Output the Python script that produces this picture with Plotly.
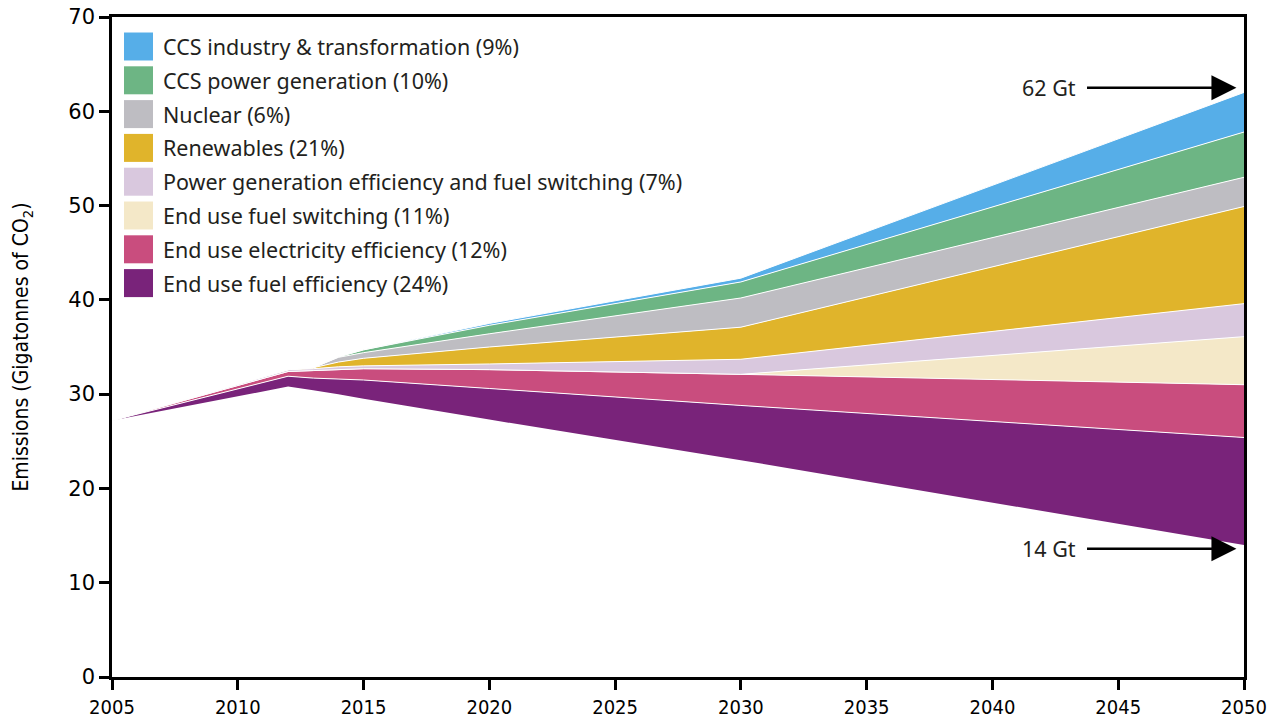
import plotly.graph_objects as go

years = [2005, 2012, 2013, 2014, 2015, 2020, 2030, 2050]
baseline = [27.2, 30.8, 30.4, 30.0, 29.5, 27.3, 23.0, 14.0]

# wedges, bottom to top
fuel_eff = [0, 1.1, 1.3, 1.6, 2.0, 3.3, 5.8, 11.4]
elec_eff = [0, 0.5, 0.8, 1.0, 1.2, 2.0, 3.3, 5.6]
fuel_switch = [0, 0, 0, 0, 0, 0, 0, 5.1]
power_eff = [0, 0.2, 0.2, 0.3, 0.3, 0.6, 1.6, 3.5]
renewables = [0, 0, 0.1, 0.5, 0.8, 1.8, 3.4, 10.3]
nuclear = [0, 0, 0, 0.5, 0.6, 1.4, 3.1, 3.1]
ccs_power = [0, 0, 0, 0.05, 0.3, 0.9, 1.7, 4.8]
ccs_industry = [0, 0, 0, 0, 0, 0.2, 0.4, 4.2]

names = [
    "End use fuel efficiency (24%)",
    "End use electricity efficiency (12%)",
    "End use fuel switching (11%)",
    "Power generation efficiency and fuel switching (7%)",
    "Renewables (21%)",
    "Nuclear (6%)",
    "CCS power generation (10%)",
    "CCS industry & transformation (9%)",
]
series = [fuel_eff, elec_eff, fuel_switch, power_eff, renewables, nuclear, ccs_power, ccs_industry]
colors = ["#79237A", "#C94D7E", "#F4E8C8", "#D9C8DE", "#E0B42B", "#BEBDC2", "#6DB584", "#56AEE8"]

x_ticks = [2005, 2010, 2015, 2020, 2025, 2030, 2035, 2040, 2045, 2050]
y_ticks = [0, 10, 20, 30, 40, 50, 60, 70]

fig = go.Figure()
fig.add_trace(go.Scatter(x=years, y=baseline, stackgroup="s", mode="lines",
                         line=dict(width=0, color="rgba(0,0,0,0)"),
                         fillcolor="rgba(0,0,0,0)", showlegend=False, hoverinfo="skip"))
for nm, vals, col in zip(names, series, colors):
    fig.add_trace(go.Scatter(x=years, y=vals, stackgroup="s", mode="lines", name=nm,
                             line=dict(width=1, color="white"), fillcolor=col,
                             showlegend=False))

# manual legend (top entry = last series)
L = 112.0
W = 1132.0
H = 660.0
def px(xp):
    return (xp - L) / W
def py(yp):
    return (677.0 - yp) / H

legend_font = dict(family="Noto Sans, Open Sans, sans-serif", size=21.5, color="#231F20")
for i, (nm, col) in enumerate(zip(reversed(names), reversed(colors))):
    cy = 46.5 + i * 33.8
    fig.add_shape(type="rect", xref="paper", yref="paper",
                  x0=px(124), x1=px(153), y0=py(cy + 14), y1=py(cy - 14),
                  fillcolor=col, line=dict(width=0), layer="above")
    fig.add_annotation(xref="paper", yref="paper", x=px(161), y=py(cy),
                       text=nm, showarrow=False, xanchor="left", yanchor="middle",
                       font=legend_font)

# arrows
top_total = baseline[-1] + sum(s[-1] for s in series)
bottom_total = baseline[-1]
for val, lab in [(top_total, "62 Gt"), (bottom_total, "14 Gt")]:
    yy = val + 0.5 if val > 30 else val - 0.4
    fig.add_annotation(x=2049.7, y=yy, ax=2043.7, ay=yy, xref="x", yref="y",
                       axref="x", ayref="y", text="", showarrow=True,
                       arrowhead=2, arrowsize=2.0, arrowwidth=2.5, arrowcolor="black")
    fig.add_annotation(x=2043.4, y=yy, xref="x", yref="y", text=lab, showarrow=False,
                       xanchor="right", yanchor="middle", font=legend_font)

fig.update_layout(
    width=1281, height=724,
    margin=dict(l=112, r=37, t=17, b=47, autoexpand=False),
    paper_bgcolor="white", plot_bgcolor="white",
    showlegend=False,
)
fig.update_xaxes(range=[2005, 2050], tickvals=x_ticks, ticks="outside", ticklen=10,
                 tickwidth=2.5, tickcolor="black", showline=True, linewidth=2.5,
                 linecolor="black", mirror=True, showgrid=False, zeroline=False,
                 automargin=False,
                 tickfont=dict(family="Liberation Sans Narrow, DejaVu Sans Condensed, sans-serif",
                               size=20, color="black"))
fig.update_yaxes(range=[0, 70], tickvals=y_ticks, ticks="outside", ticklen=10,
                 tickwidth=2.5, tickcolor="black", showline=True, linewidth=2.5,
                 linecolor="black", mirror=True, showgrid=False, zeroline=False,
                 automargin=False,
                 tickfont=dict(family="DejaVu Sans, sans-serif", size=21, color="black"),
                 title=dict(text="Emissions (Gigatonnes of CO<sub>2</sub>)", standoff=34,
                            font=dict(family="Liberation Sans Narrow, DejaVu Sans Condensed, sans-serif",
                                      size=21, color="black")))

fig.write_html("out.html", config={"displayModeBar": False},
               post_script="document.body.style.margin='0';")
